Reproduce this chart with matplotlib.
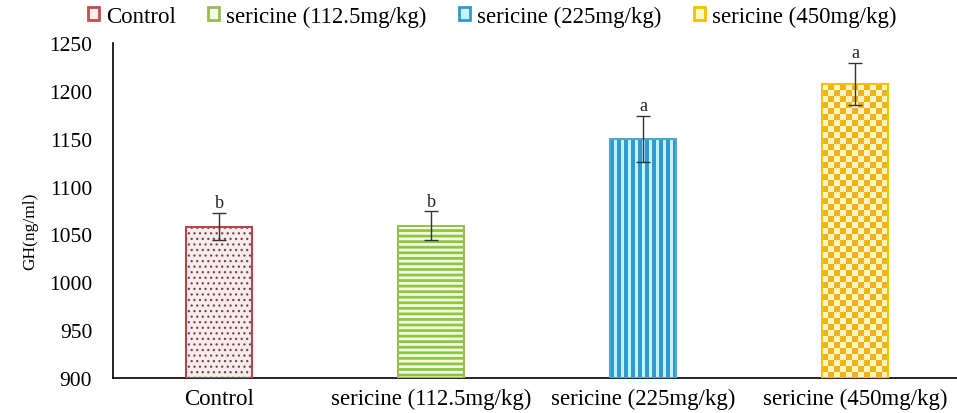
import numpy as np
import matplotlib
matplotlib.use("Agg")
import matplotlib.pyplot as plt
from matplotlib.colors import ListedColormap
from matplotlib.patches import Patch

plt.rcParams['font.family'] = ['Liberation Serif', 'DejaVu Serif']

# group means, errors and significance letters
groups = ["Control", "sericine (112.5mg/kg)", "sericine (225mg/kg)", "sericine (450mg/kg)"]
gh_mean = [1058, 1059, 1150, 1207]
gh_err = [14, 15, 24, 22]
letters = ["b", "b", "a", "a"]
yticks = [900, 950, 1000, 1050, 1100, 1150, 1200, 1250]

edge_cols = ["#B8434A", "#9BBB59", "#4BACC6", "#F2C200"]
face_cols = ["#FCEBEB", "#F6FBE6", "#C4F2FF", "#FFF6C4"]
hatch_cols = ["#6A4A55", "#8DC63F", "#2F9AD0", "#F2B21A"]
legend_edge = ["#C0504D", "#9BBB59", "#2F9AD0", "#F2C200"]

fig = plt.figure(figsize=(9.57, 4.14), dpi=100)
ax = fig.add_axes([113 / 957, 1 - 379 / 414, 848 / 957, 335 / 414])
ax.set_xlim(-0.5, 3.5)
ax.set_ylim(900, 1250)

x = np.arange(len(groups))
width = 0.316
base = 900
heights = [v - base for v in gh_mean]

# dotted control bar and striped green bar use regular hatches
with plt.rc_context({'hatch.linewidth': 0.9}):
    b0 = ax.bar(x[0], heights[0], width, bottom=base, facecolor=face_cols[0],
                edgecolor=hatch_cols[0], hatch='...', linewidth=0, zorder=2)
with plt.rc_context({'hatch.linewidth': 2.0}):
    b1 = ax.bar(x[1], heights[1], width, bottom=base, facecolor=face_cols[1],
                edgecolor=hatch_cols[1], hatch='---', linewidth=0, zorder=2)

# plain bars for the two textured groups, filled by clipped images below
b2 = ax.bar(x[2], heights[2], width, bottom=base, facecolor=face_cols[2],
            linewidth=0, zorder=2)
b3 = ax.bar(x[3], heights[3], width, bottom=base, facecolor=face_cols[3],
            linewidth=0, zorder=2)


def pixel_size(rect):
    (x0, y0), (x1, y1) = ax.transData.transform(
        [(rect.get_x(), rect.get_y()),
         (rect.get_x() + rect.get_width(), rect.get_y() + rect.get_height())])
    return int(round(x1 - x0)), int(round(y1 - y0))


# vertical stripes
r = b2.patches[0]
wpx, hpx = pixel_size(r)
cols = (np.arange(wpx) % 7 < 4).astype(int)
stripes = np.tile(cols, (max(hpx, 1), 1))
im = ax.imshow(stripes, cmap=ListedColormap([face_cols[2], hatch_cols[2]]),
               extent=[r.get_x(), r.get_x() + r.get_width(), r.get_y(), r.get_y() + r.get_height()],
               aspect='auto', interpolation='nearest', zorder=2.1)
im.set_clip_path(r)

# checkerboard
r = b3.patches[0]
wpx, hpx = pixel_size(r)
cell = 6
ii, jj = np.meshgrid(np.arange(hpx) // cell, np.arange(wpx) // cell, indexing='ij')
checker = ((ii + jj) % 2)[::-1]
im = ax.imshow(checker, cmap=ListedColormap([face_cols[3], hatch_cols[3]]),
               extent=[r.get_x(), r.get_x() + r.get_width(), r.get_y(), r.get_y() + r.get_height()],
               aspect='auto', interpolation='nearest', zorder=2.1)
im.set_clip_path(r)

# outlines
ax.bar(x, heights, width, bottom=base, fill=False, edgecolor=edge_cols,
       linewidth=1.5, zorder=3)

ax.errorbar(x, gh_mean, yerr=gh_err, fmt='none', ecolor='#333333',
            elinewidth=1, capsize=5, capthick=1, zorder=4)

for xi, m, e, lab in zip(x, gh_mean, gh_err, letters):
    ax.text(xi, m + e + 2, lab, ha='center', va='bottom', fontsize=13, color='#222222')

ax.set_xlim(-0.5, 3.5)
ax.set_ylim(900, 1250)
ax.set_xticks(x)
ax.set_xticklabels(groups, fontsize=16.5)
ax.set_yticks(yticks)
ax.set_yticklabels([str(t) for t in yticks], fontsize=15.5)
ax.tick_params(axis='both', length=0)
ax.tick_params(axis='y', pad=15)
ax.tick_params(axis='x', pad=7)

for s in ['top', 'right']:
    ax.spines[s].set_visible(False)
ax.spines['left'].set_linewidth(1.2)
ax.spines['bottom'].set_linewidth(1.2)

ax.set_ylabel("GH(ng/ml)", fontsize=12.5)
ax.yaxis.set_label_coords(-0.088, 0.44)

handles = [Patch(facecolor=f, edgecolor=e, linewidth=2) for f, e in zip(face_cols, legend_edge)]
fig.legend(handles, groups, loc='center', bbox_to_anchor=(492 / 957, 1 - 17 / 414),
           ncol=4, frameon=False, fontsize=16.5, handlelength=0.5, handleheight=0.5,
           handletextpad=0.3, columnspacing=1.4, borderpad=0.2)

fig.savefig("out.png", dpi=100)
